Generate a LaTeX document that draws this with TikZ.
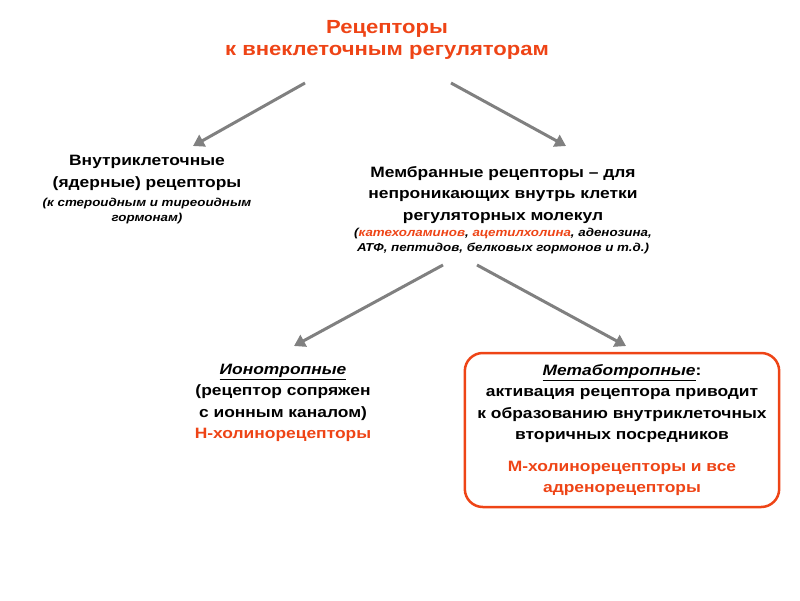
\documentclass[tikz,border=0pt]{standalone}
\usepackage{fontspec}
\setmainfont{Liberation Sans}
\usetikzlibrary{positioning,arrows.meta}
\definecolor{recred}{RGB}{238,68,22}
\definecolor{recgray}{RGB}{128,128,128}

\begin{document}
\begin{tikzpicture}[x=1pt,y=-1pt,
    every node/.style={align=center,xscale=1.16,transform shape,
                       font=\bfseries\fontsize{15}{21.5}\selectfont},
    arr/.style={recgray,line width=3pt,-{Triangle[length=11pt,width=13pt]}},
    note/.style={font=\bfseries\itshape\fontsize{11.5}{15}\selectfont}]
    \useasboundingbox (0,0) rectangle (800,600);
    % Título
    \node[recred,font=\bfseries\fontsize{19}{22}\selectfont] (title) at (387,40)
        {Рецепторы\\к внеклеточным регуляторам};
    % Ramos superiores
    \node (intra) at (147,173)
        {Внутриклеточные\\(ядерные) рецепторы};
    \node[note,below=1pt of intra] (intranote)
        {(к стероидным и тиреоидным\\гормонам)};
    \node (memb) at (503,195)
        {Мембранные рецепторы – для\\непроникающих внутрь клетки\\регуляторных молекул};
    \node[note,below=-2pt of memb] (membnote)
        {(\textcolor{recred}{катехоламинов}, \textcolor{recred}{ацетилхолина}, аденозина,\\АТФ, пептидов, белковых гормонов и т.д.)};
    % Ramos inferiores
    \node (iono) at (283,403)
        {\underline{\itshape Ионотропные}\\(рецептор сопряжен\\с ионным каналом)\\\textcolor{recred}{Н-холинорецепторы}};
    \node[draw=recred,line width=2.5pt,rounded corners=18pt,
          minimum width=271pt,minimum height=154pt] (meta) at (622,430)
        {\underline{\itshape Метаботропные}:\\активация рецептора приводит\\к образованию внутриклеточных\\вторичных посредников\\[10pt]
         \textcolor{recred}{М-холинорецепторы и все}\\\textcolor{recred}{адренорецепторы}};
    % Setas
    \coordinate (a1) at (305,83);
    \coordinate (a2) at (451,83);
    \coordinate (b1) at (443,265);
    \coordinate (b2) at (477,265);
    \coordinate (e1) at (193,146);
    \coordinate (e2) at (566,146);
    \coordinate (e3) at (294,346);
    \coordinate (e4) at (626,346);
    \draw[arr] (a1) -- (e1);
    \draw[arr] (a2) -- (e2);
    \draw[arr] (b1) -- (e3);
    \draw[arr] (b2) -- (e4);
\end{tikzpicture}
\end{document}
